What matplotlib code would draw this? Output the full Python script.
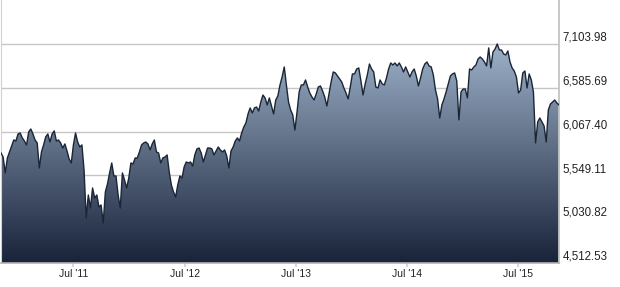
import matplotlib
matplotlib.use('Agg')
import matplotlib.pyplot as plt
import matplotlib.dates as mdates
from matplotlib.colors import LinearSegmentedColormap
import numpy as np
import pandas as pd

# weekly closes, first week ending 2010-11-05
first_week = '2010-11-05'
close = [
    5814, 5767, 5578, 5755, 5826, 5897, 5968, 5956, 6039, 6051,
    5992, 5956, 5909, 6063, 6098, 6039, 5968, 5933, 5637, 5826,
    5909, 6004, 6039, 5944, 6039, 6075, 5956, 5968, 5933, 5873,
    5921, 5838, 5743, 5696, 5909, 6051, 5944, 5885, 5909, 5613,
    5045, 5317, 5163, 5400, 5282, 5317, 5175, 5199, 4986, 5353,
    5447, 5578, 5696, 5542, 5542, 5317, 5163, 5578, 5495, 5400,
    5518, 5696, 5684, 5755, 5755, 5826, 5909, 5933, 5944, 5921,
    5850, 5921, 5968, 5826, 5814, 5696, 5755, 5767, 5791, 5589,
    5436, 5353, 5294, 5436, 5542, 5518, 5649, 5708, 5696, 5708,
    5660, 5791, 5862, 5873, 5814, 5708, 5791, 5873, 5873, 5862,
    5791, 5838, 5885, 5850, 5826, 5850, 5779, 5637, 5838, 5885,
    5956, 5992, 5956, 6051, 6122, 6169, 6276, 6347, 6288, 6347,
    6358, 6311, 6418, 6500, 6465, 6382, 6465, 6370, 6276, 6441,
    6489, 6619, 6713, 6832, 6619, 6418, 6323, 6264, 6086, 6299,
    6536, 6619, 6619, 6678, 6595, 6524, 6477, 6441, 6512, 6595,
    6607, 6548, 6477, 6370, 6512, 6654, 6773, 6761, 6725, 6690,
    6654, 6583, 6524, 6453, 6595, 6749, 6749, 6808, 6820, 6666,
    6500, 6631, 6737, 6867, 6808, 6773, 6595, 6583, 6678, 6631,
    6619, 6702, 6808, 6879, 6855, 6879, 6844, 6879, 6832, 6773,
    6832, 6773, 6713, 6773, 6808, 6725, 6607, 6702, 6808, 6867,
    6891, 6844, 6832, 6737, 6560, 6453, 6228, 6382, 6453, 6536,
    6631, 6725, 6749, 6761, 6666, 6205, 6536, 6571, 6571, 6465,
    6808, 6796, 6832, 6855, 6926, 6950, 6926, 6891, 6844, 7057,
    6820, 7009, 7045, 7103.98, 7033, 7033, 6986, 6974, 7021, 6891,
    6820, 6784, 6713, 6524, 6560, 6761, 6784, 6583, 6749, 6678,
    6536, 5933, 6181, 6228, 6181, 6134, 5944, 6323, 6394, 6418,
    6441, 6406, 6382,
]
ytick_vals = [4512.53, 5030.82, 5549.11, 6067.40, 6585.69, 7103.98]

dates = pd.date_range(first_week, periods=len(close), freq='W-FRI')

plt.rcParams['font.family'] = ['Liberation Sans', 'DejaVu Sans']

fig = plt.figure(figsize=(6.2, 2.87), dpi=100)
ax = fig.add_axes([0.0016, 24 / 287, 558 / 620, 263 / 287])
ymin, ymax = 4512.53, 7624
ax.set_xlim(dates[0], dates[-1])
ax.set_ylim(ymin, ymax)

# area with vertical gradient, clipped to the filled polygon
poly = ax.fill_between(dates, close, ymin, facecolor='none', edgecolor='none')
x0, x1 = ax.get_xlim()
cmap = LinearSegmentedColormap.from_list('area', ['#19233a', '#b6cde4'])
grad = np.linspace(1, 0, 256).reshape(-1, 1)
img = ax.imshow(grad, aspect='auto', cmap=cmap, extent=[x0, x1, ymin, ymax],
                origin='upper', zorder=2)
img.set_clip_path(poly.get_paths()[0], transform=ax.transData)
ax.plot(dates, close, color='#1a2536', lw=1.0, zorder=3)
ax.set_xlim(dates[0], dates[-1])
ax.set_ylim(ymin, ymax)

# y axis: gridlines + labels on the right, sitting just above each line
ax.set_yticks(ytick_vals)
ax.set_yticklabels([])
ax.yaxis.grid(True, color='#c6c6c6', lw=1)
ax.set_axisbelow(True)
ax.tick_params(axis='y', length=0)
for v in ytick_vals:
    ax.annotate('{:,.2f}'.format(v), xy=(1, v), xycoords=('axes fraction', 'data'),
                xytext=(2.5, 4.5), textcoords='offset points', va='center',
                ha='left', fontsize=8.3, color='#222222', annotation_clip=False)

# x axis: July ticks
ax.xaxis.set_major_locator(mdates.MonthLocator(bymonth=7))
ax.xaxis.set_major_formatter(mdates.DateFormatter("%b '%y"))
ax.tick_params(axis='x', length=3, width=1.5, color='#d0d8e0', labelsize=7.5,
               pad=1.5, labelcolor='#222222')

ax.spines['top'].set_visible(False)
ax.spines['left'].set_color('#d0d0d0')
ax.spines['right'].set_color('#c4c4c4')
ax.spines['right'].set_linewidth(1.3)
ax.spines['bottom'].set_color('#b4b4b4')
ax.spines['bottom'].set_linewidth(1.2)

fig.savefig('out.png', dpi=100)
